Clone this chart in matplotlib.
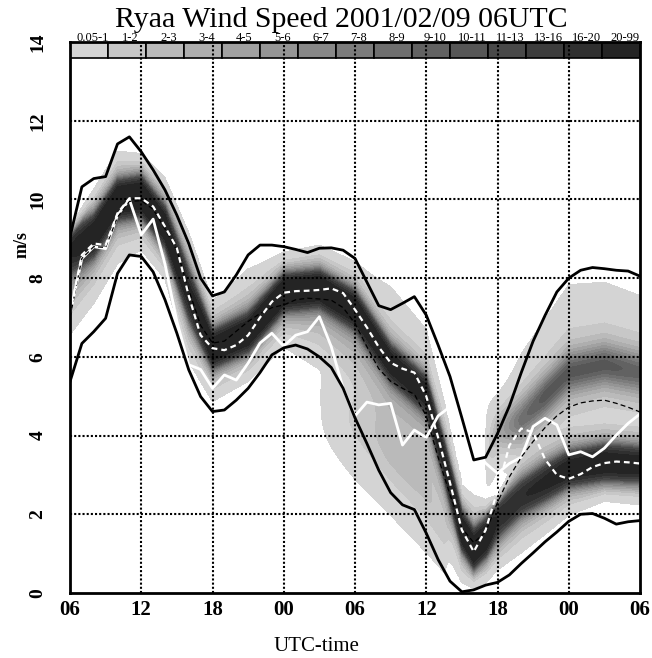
import numpy as np
import matplotlib
matplotlib.use("Agg")
import matplotlib.pyplot as plt
from matplotlib.patches import Rectangle

plt.rcParams['font.family'] = ['Liberation Serif', 'DejaVu Serif']

# ---------------- data ----------------
title = "Ryaa Wind Speed 2001/02/09 06UTC"
x_label = "UTC-time"
y_label = "m/s"
tick_hours = [0, 6, 12, 18, 24, 30, 36, 42, 48]
tick_labels = ["06", "12", "18", "00", "06", "12", "18", "00", "06"]
y_ticks = [0, 2, 4, 6, 8, 10, 12, 14]

hours = list(range(49))
ens_max = [9.05, 10.32, 10.53, 10.58, 11.41, 11.59, 11.21, 10.75, 10.24, 9.6,
           8.88, 8.0, 7.55, 7.65, 8.08, 8.59, 8.84, 8.84, 8.8, 8.73,
           8.65, 8.76, 8.77, 8.71, 8.5, 7.9, 7.3, 7.2, 7.36, 7.53,
           7.06, 6.3, 5.5, 4.45, 3.38, 3.45, 4.05, 4.75, 5.6, 6.4,
           7.05, 7.65, 8.0, 8.2, 8.27, 8.24, 8.2, 8.18, 8.05]
ens_min = [5.37, 6.34, 6.64, 6.98, 8.12, 8.59, 8.55, 8.16, 7.45, 6.6,
           5.67, 4.99, 4.61, 4.65, 4.9, 5.2, 5.6, 6.05, 6.23, 6.3,
           6.2, 6.0, 5.73, 5.2, 4.45, 3.8, 3.12, 2.55, 2.24, 2.12,
           1.52, 0.85, 0.3, 0.03, 0.08, 0.2, 0.27, 0.46, 0.75, 1.02,
           1.3, 1.55, 1.82, 2.0, 2.02, 1.9, 1.75, 1.81, 1.84]
ens_median = [7.1, 8.59, 8.88, 8.84, 9.65, 10.03, 10.03, 9.82, 9.31, 8.76,
              7.55, 6.55, 6.22, 6.17, 6.3, 6.55, 7.0, 7.4, 7.63, 7.67,
              7.68, 7.7, 7.74, 7.62, 7.2, 6.75, 6.25, 5.85, 5.7, 5.6,
              5.0, 3.95, 2.8, 1.6, 1.05, 1.6, 2.6, 3.75, 4.18, 4.08,
              3.4, 3.0, 2.9, 3.02, 3.2, 3.3, 3.34, 3.32, 3.29]
ens_mean = [7.0, 8.5, 8.8, 8.78, 9.55, 9.95, 9.97, 9.75, 9.25, 8.7,
            7.7, 6.8, 6.35, 6.4, 6.65, 6.9, 7.1, 7.25, 7.32, 7.45,
            7.49, 7.47, 7.44, 7.25, 6.85, 6.26, 5.7, 5.38, 5.2, 5.05,
            4.5, 3.45, 2.5, 1.65, 1.28, 1.55, 2.3, 2.95, 3.45, 3.85,
            4.2, 4.5, 4.72, 4.83, 4.88, 4.9, 4.82, 4.72, 4.6]
observed = [7.1, 8.5, 8.8, 8.75, 9.6, 10.0, 9.1, 9.5, 8.35, 6.9,
            5.8, 5.68, 5.2, 5.54, 5.41, 5.84, 6.35, 6.6, 6.27, 6.55,
            6.64, 7.02, 6.26, 5.2, 4.5, 4.85, 4.78, 4.82, 3.76, 4.14,
            3.95, 4.5, 4.73, 4.2, 3.7, 3.3, 3.04, 3.29, 3.45, 4.23,
            4.44, 4.27, 3.51, 3.59, 3.46, 3.68, 4.01, 4.31, 4.55]

prob_bounds = [0.05, 1, 2, 3, 4, 5, 6, 7, 8, 9, 10, 11, 13, 16, 20, 99]
prob_labels = ["0.05-1", "1-2", "2-3", "3-4", "4-5", "5-6", "6-7", "7-8",
               "8-9", "9-10", "10-11", "11-13", "13-16", "16-20", "20-99"]

# probability-density description at node times
node_hours = [0, 2, 4, 6, 8, 10, 12, 15, 18, 21, 24, 27, 30, 31.5, 33, 34,
              35, 36, 38, 40, 42, 45, 48]
core_center = [8.7, 9.1, 10.0, 10.1, 9.3, 7.6, 6.2, 6.6, 7.65, 7.75, 7.2, 5.85,
               5.05, 3.4, 1.6, 1.1, 1.4, 1.9, 2.45, 2.8, 3.15, 3.3, 3.25]
core_width = [0.35, 0.3, 0.27, 0.27, 0.3, 0.4, 0.27, 0.27, 0.25, 0.25, 0.27, 0.27,
              0.27, 0.3, 0.27, 0.27, 0.27, 0.3, 0.3, 0.3, 0.27, 0.27, 0.27]
core_peak = [16, 22, 26, 26, 22, 16, 22, 24, 26, 26, 24, 20,
             20, 18, 24, 26, 24, 14, 13, 15, 18, 20, 18]
gray_low = [6.4, 7.2, 8.2, 8.6, 7.9, 5.8, 4.75, 5.3, 6.1, 5.5, 4.5, 2.6,
            1.8, 0.9, 0.15, 0.1, 0.2, 0.5, 0.9, 1.4, 1.9, 2.3, 2.2]
gray_high = [9.3, 10.3, 11.3, 11.2, 10.6, 9.2, 7.5, 8.4, 8.7, 8.9, 8.5, 8.0,
             6.9, 5.0, 2.8, 2.6, 2.4, 2.5, 3.6, 4.2, 4.5, 4.6, 4.5]
mode2_center = [5, 5, 5, 5, 5, 5, 5, 5, 5, 5, 4.4, 3.6,
                2.5, 1.5, 2.5, 3.2, 3.6, 4.1, 4.4, 5.0, 5.6, 5.8, 5.6]
mode2_width = [0.5, 0.5, 0.5, 0.5, 0.5, 0.5, 0.5, 0.5, 0.5, 0.5, 0.6, 0.6,
               0.55, 0.4, 0.4, 0.4, 0.4, 0.35, 0.35, 0.35, 0.35, 0.35, 0.35]
mode2_peak = [0, 0, 0, 0, 0, 0, 0, 0, 0, 0, 1.2, 2.0,
              1.8, 1.0, 0, 0, 0, 2, 6, 8, 8, 8, 7]
mode2_base = [0, 0, 0, 0, 0, 0, 0, 0, 0, 0, 0, 0,
              0, 0, 0, 0, 0, 1.5, 2.5, 2.5, 2.5, 2.5, 2.5]
mode2_spread = [0.5, 0.5, 0.5, 0.5, 0.5, 0.5, 0.5, 0.5, 0.5, 0.5, 0.5, 0.5,
                0.5, 0.5, 0.5, 0.5, 0.5, 0.3, 0.6, 0.7, 0.8, 0.75, 0.7]

# ---------------- figure ----------------
W, H = 652, 658
fig = plt.figure(figsize=(W / 100, H / 100), dpi=100)
ax = fig.add_axes([70 / W, 65 / H, 570 / W, 551 / H])
ax.set_xlim(0, 48)
ax.set_ylim(0, 14)

gray_colors = [str(round(v, 3)) for v in np.linspace(0.83, 0.14, len(prob_labels))]

tt = np.linspace(0, 48, 385)
yy = np.linspace(0, 14, 561)
T, Y = np.meshgrid(tt, yy)


def node(arr):
    return np.interp(tt, node_hours, arr)[None, :]


def gauss(c, s):
    return np.exp(-0.5 * ((Y - c) / s) ** 2)


mu, sd, pk = node(core_center), node(core_width), node(core_peak)
lo, hi = node(gray_low), node(gray_high)
m2, s2, p2 = node(mode2_center), node(mode2_width), node(mode2_peak)
b2, w2 = node(mode2_base), node(mode2_spread)
bc = (lo + hi) / 2
bs = (hi - lo) / (2 * 2.86)
main = (pk * gauss(mu, sd) + 0.28 * pk * gauss(mu, 1.7 * sd)
        + 3.0 * gauss(bc, bs))
main *= np.clip((Y - lo) / 0.4, 0, 1) * np.clip((hi - Y) / 0.4, 0, 1)
field = main + p2 * gauss(m2, s2) + b2 * gauss(m2, w2)
ax.contourf(T, Y, field, levels=prob_bounds, colors=gray_colors, zorder=1)

# legend bar inside top of axes
bw = 48 / len(prob_labels)
for i, (lab, col) in enumerate(zip(prob_labels, gray_colors)):
    ax.add_patch(Rectangle((i * bw, 13.6), bw, 0.4, facecolor=col,
                           edgecolor='black', lw=1.2, zorder=2))
    ax.text(i * bw + bw / 2 + 0.3, 14.03, lab, ha='center', va='baseline',
            fontsize=9, clip_on=False)

# grid
for h in tick_hours[1:-1]:
    ax.axvline(h, color='black', lw=1.5, ls=(0, (1, 1)), zorder=3)
for v in y_ticks[1:-1]:
    ax.axhline(v, color='black', lw=1.5, ls=(0, (1, 1)), zorder=3)

# lines
ax.plot(hours, observed, color='white', lw=2.0, zorder=4)
ax.plot(hours, ens_max, color='black', lw=2.0, zorder=5)
ax.plot(hours, ens_min, color='black', lw=2.0, zorder=5)
ax.plot(hours, ens_mean, color='black', lw=0.9, ls=(0, (4, 2.5)), zorder=5)
ax.plot(hours, ens_median, color='white', lw=1.6, ls=(0, (2.6, 1.8)), zorder=7)

# axes styling
for sp in ax.spines.values():
    sp.set_linewidth(2)
    sp.set_zorder(8)
ax.set_xticks(tick_hours)
ax.set_xticklabels(tick_labels, fontsize=15, fontweight='bold')
ax.set_yticks(y_ticks)
ax.set_yticklabels([str(v) for v in y_ticks], fontsize=14, fontweight='bold',
                   rotation=90, va='center')
ax.tick_params(axis='x', length=0, pad=5)
ax.tick_params(axis='y', length=0, pad=17)

fig.text(22 / W, 1 - 245 / H, y_label, rotation=90, ha='center', va='center',
         fontsize=13, fontweight='bold')
fig.text(316 / W, 1 - 651 / H, x_label, ha='center', va='baseline', fontsize=15)
fig.text(341 / W, 1 - 27 / H, title, ha='center', va='baseline', fontsize=21.5)

fig.savefig("out.png", dpi=100)
